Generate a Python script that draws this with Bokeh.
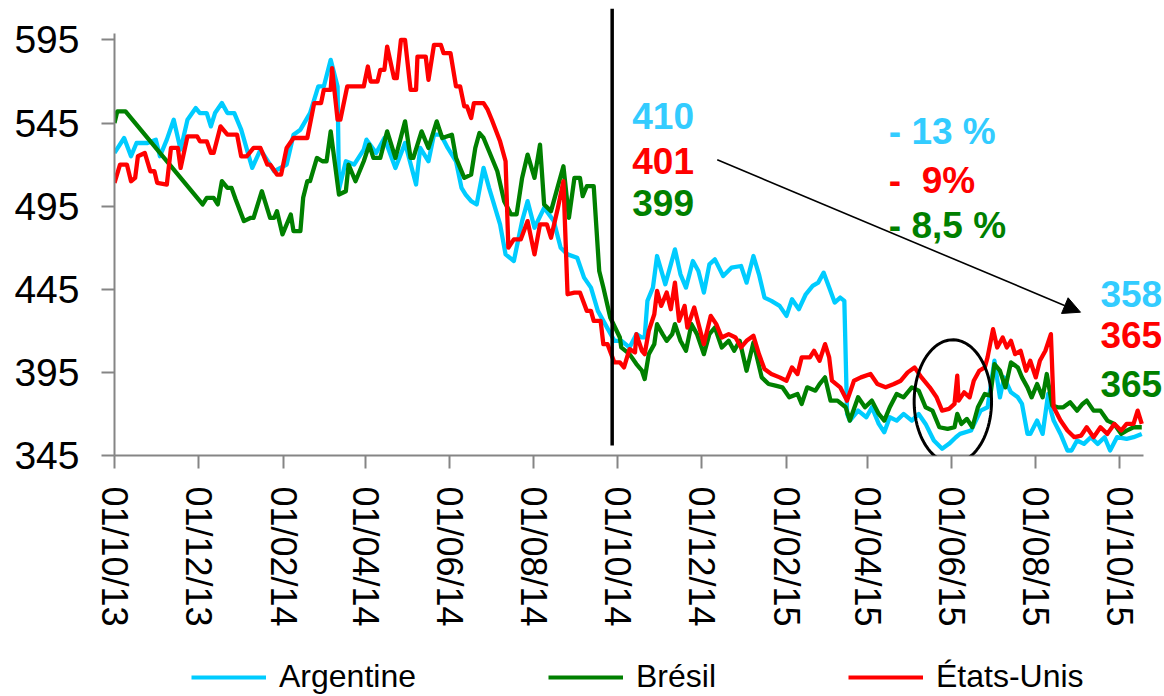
import numpy as np
import pandas as pd
from bokeh.plotting import figure
from bokeh.layouts import column
from bokeh.models import (Range1d, FixedTicker, Legend, LegendItem, Label, Arrow,
                          NormalHead, PolyAnnotation, ColumnDataSource)
from bokeh.embed import file_html
from bokeh.resources import INLINE

# ---------------- data (x = days since 01/10/2013) ----------------
START = pd.Timestamp("2013-10-01")
tick_dates = ["2013-10-01", "2013-12-01", "2014-02-01", "2014-04-01", "2014-06-01",
              "2014-08-01", "2014-10-01", "2014-12-01", "2015-02-01", "2015-04-01",
              "2015-06-01", "2015-08-01", "2015-10-01"]
tick_labels = ["01/10/13", "01/12/13", "01/02/14", "01/04/14", "01/06/14", "01/08/14",
               "01/10/14", "01/12/14", "01/02/15", "01/04/15", "01/06/15", "01/08/15",
               "01/10/15"]
y_ticks = [345, 395, 445, 495, 545, 595]

arg_days = [0, 7, 12, 16, 24, 30, 33, 38, 43, 48, 53, 59, 62, 67, 70, 73, 78, 82, 87, 92,
            100, 106, 116, 125, 130, 135, 142, 148, 152, 157, 162, 163, 168, 174, 181, 183, 190, 196, 204, 211,
            219, 222, 228, 232, 237, 242, 248, 252, 255, 259, 263, 268, 272, 280, 284, 290, 296, 300, 305, 312,
            319, 324, 329, 336, 341, 346, 351, 355, 363, 368, 374, 379, 383, 385, 387, 391, 394, 400, 404, 407,
            411, 415, 420, 424, 428, 432, 436, 442, 448, 455, 459, 464, 468, 472, 477, 483, 488, 492, 497, 502,
            507, 511, 515, 519, 523, 527, 530, 532, 534, 540, 546, 550, 555, 559, 563, 568, 573, 579, 584, 589,
            595, 601, 606, 611, 614, 622, 629, 634, 639, 643, 646, 651, 656, 659, 663, 665, 670, 674, 677, 678,
            680, 682, 687, 692, 695, 699, 704, 709, 714, 719, 723, 728, 735, 740, 746]
arg_vals = [527, 536, 525, 533, 533, 535, 525, 535, 547, 529, 547, 554, 551, 551, 543, 551, 557, 551, 551, 541,
            518, 529, 516, 520, 538, 541, 551, 567, 567, 583, 567, 505, 522, 520, 529, 535, 527, 536, 518, 533,
            508, 530, 522, 538, 538, 530, 522, 506, 502, 498, 496, 518, 506, 484, 466, 462, 486, 498, 482, 494,
            486, 470, 466, 464, 452, 446, 432, 426, 414, 414, 410, 418, 416, 416, 438, 446, 465, 448, 460, 469,
            454, 446, 462, 456, 443, 460, 463, 453, 458, 459, 449, 465, 454, 440, 438, 435, 429, 439, 433, 442,
            447, 449, 455, 446, 437, 440, 438, 370, 366, 372, 368, 374, 364, 359, 368, 366, 370, 366, 370, 364,
            354, 349, 352, 356, 358, 360, 372, 374, 402, 380, 392, 383, 380, 376, 358, 358, 366, 358, 376, 382,
            372, 366, 358, 348, 348, 354, 352, 356, 352, 356, 348, 356, 355, 356, 358]

bre_days = [0, 2, 8, 64, 67, 72, 75, 78, 82, 85, 88, 94, 99, 101, 107, 113, 116, 118, 122, 128,
            130, 135, 137, 140, 142, 147, 151, 154, 157, 163, 168, 170, 175, 181, 185, 188, 193, 198, 204, 211,
            215, 217, 223, 228, 234, 238, 245, 248, 254, 259, 262, 265, 268, 272, 278, 283, 288, 292, 296, 300,
            305, 309, 312, 317, 321, 326, 330, 334, 338, 340, 343, 348, 352, 355, 360, 367, 368, 374, 379, 383,
            385, 388, 392, 394, 398, 401, 405, 407, 411, 415, 419, 423, 428, 432, 436, 441, 446, 450, 454, 459,
            464, 470, 475, 480, 485, 490, 496, 499, 503, 509, 512, 516, 520, 525, 531, 534, 540, 545, 550, 555,
            559, 563, 568, 573, 579, 584, 589, 594, 599, 605, 610, 612, 615, 619, 623, 627, 632, 636, 639, 643,
            647, 651, 656, 659, 663, 666, 670, 674, 677, 681, 685, 689, 694, 699, 703, 706, 711, 716, 721, 726,
            731, 735, 740, 746]
bre_vals = [545, 552, 552, 496, 500, 500, 496, 510, 506, 506, 499, 486, 488, 488, 504, 488, 488, 492, 478, 490,
            480, 480, 500, 510, 510, 524, 522, 522, 540, 502, 504, 520, 510, 522, 532, 524, 524, 540, 524, 546,
            524, 524, 540, 530, 546, 536, 538, 524, 512, 514, 530, 539, 536, 528, 516, 498, 490, 490, 512, 526,
            512, 532, 496, 492, 504, 519, 488, 512, 512, 501, 507, 507, 456, 446, 428, 416, 410, 406, 400, 396,
            391, 406, 412, 424, 418, 414, 418, 424, 414, 408, 424, 418, 406, 418, 422, 410, 414, 408, 414, 396,
            413, 392, 388, 387, 386, 380, 382, 376, 386, 384, 388, 392, 378, 378, 374, 366, 380, 374, 378, 370,
            366, 374, 382, 380, 386, 384, 374, 372, 362, 361, 362, 370, 364, 367, 362, 374, 382, 381, 400, 396,
            386, 401, 398, 392, 386, 380, 388, 380, 394, 375, 374, 374, 377, 372, 376, 378, 372, 372, 366, 364,
            358, 360, 362, 362]

usa_days = [0, 4, 9, 12, 15, 17, 22, 26, 29, 31, 38, 41, 46, 48, 53, 60, 62, 67, 70, 72,
            77, 82, 89, 92, 96, 101, 106, 111, 113, 118, 121, 125, 130, 140, 145, 150, 152, 157, 158, 162,
            164, 169, 174, 181, 184, 186, 191, 193, 196, 198, 203, 205, 208, 211, 215, 219, 220, 226, 228, 232,
            237, 239, 244, 248, 251, 254, 256, 259, 261, 268, 271, 274, 280, 284, 286, 290, 295, 300, 305, 309,
            314, 317, 322, 326, 329, 334, 338, 343, 346, 348, 353, 355, 358, 363, 367, 370, 374, 378, 379, 383,
            385, 388, 392, 394, 397, 401, 404, 407, 410, 414, 416, 421, 426, 428, 433, 437, 441, 446, 451, 455,
            459, 464, 468, 472, 477, 483, 488, 492, 496, 499, 505, 508, 512, 516, 519, 521, 527, 532, 537, 542,
            549, 554, 560, 566, 571, 576, 581, 586, 592, 597, 601, 606, 610, 612, 613, 617, 621, 624, 628, 632,
            634, 638, 641, 645, 648, 651, 654, 658, 662, 665, 669, 672, 676, 680, 682, 687, 692, 697, 702, 706,
            711, 716, 721, 726, 731, 735, 740, 743, 746]
usa_vals = [509, 520, 520, 510, 512, 525, 527, 516, 516, 509, 508, 530, 530, 518, 537, 537, 534, 534, 527, 527,
            543, 538, 538, 525, 525, 530, 530, 520, 520, 514, 514, 530, 536, 536, 557, 557, 565, 565, 578, 547,
            547, 567, 567, 567, 579, 570, 570, 577, 577, 591, 572, 572, 595, 595, 565, 565, 585, 585, 571, 592,
            592, 587, 587, 567, 567, 555, 555, 548, 557, 557, 553, 547, 534, 522, 470, 475, 475, 486, 466, 484,
            484, 476, 494, 510, 442, 443, 443, 432, 432, 426, 426, 412, 412, 401, 401, 398, 409, 407, 418, 408,
            406, 420, 430, 444, 435, 443, 433, 449, 426, 435, 422, 434, 418, 412, 429, 424, 416, 418, 416, 410,
            414, 417, 406, 397, 394, 392, 390, 398, 394, 404, 404, 408, 402, 412, 404, 390, 386, 378, 390, 392,
            394, 388, 386, 388, 390, 395, 398, 392, 386, 380, 372, 373, 376, 393, 378, 383, 380, 390, 396, 398,
            404, 421, 410, 416, 410, 414, 406, 408, 396, 402, 392, 402, 408, 418, 374, 366, 360, 356, 357, 362,
            356, 362, 358, 364, 360, 364, 364, 372, 364]

series_names = ["Argentine", "Brésil", "États-Unis"]
series_colors = ["#00CCFF", "#008000", "#FF0000"]

event_day = 361.4            # vertical marker (start of the 2014/15 season)
start_labels = ["410", "401", "399"]
start_label_y = [549.0, 522.1, 496.8]
change_labels = ["- 13 %", "- \u00a09%", "- 8,5 %"]
change_label_y = [540.0, 510.5, 483.4]
end_labels = ["358", "365", "365"]
end_label_y = [442.3, 417.2, 388.3]
text_colors = ["#33CCFF", "#FF0000", "#008000"]

# ---------------- main figure ----------------
X_AXIS_END = 747.3
X_END = 762.5
Y_TOP = 613.9
p = figure(width=1164, height=656, output_backend="svg", toolbar_location=None,
           x_range=Range1d(0, X_END), y_range=Range1d(345, Y_TOP),
           min_border_left=114, min_border_right=0, min_border_top=8, min_border_bottom=201)
p.outline_line_color = None
p.grid.visible = False
p.background_fill_color = "white"

FONT = "Liberation Sans"
AX = "#858585"

tick_days = [(pd.Timestamp(d) - START).days for d in tick_dates]
xa = p.xaxis[0]
xa.ticker = FixedTicker(ticks=tick_days)
xa.bounds = (0, X_AXIS_END)
xa.major_label_overrides = {int(d): l for d, l in zip(tick_days, tick_labels)}
xa.major_label_orientation = "vertical"
xa.major_label_text_font = FONT
xa.major_label_text_font_size = "36px"
xa.major_label_text_color = "black"
xa.major_label_standoff = 18
xa.major_tick_in = 0
xa.major_tick_out = 13
xa.minor_tick_out = 0
xa.minor_tick_in = 0
xa.axis_line_color = AX
xa.axis_line_width = 2
xa.major_tick_line_color = AX
xa.major_tick_line_width = 2

ya = p.yaxis[0]
ya.ticker = FixedTicker(ticks=y_ticks)
ya.bounds = (345, 599)
ya.major_label_text_font = FONT
ya.major_label_text_font_size = "39px"
ya.major_label_text_color = "black"
ya.major_label_standoff = 22
ya.major_tick_in = 0
ya.major_tick_out = 13
ya.minor_tick_out = 0
ya.minor_tick_in = 0
ya.axis_line_color = AX
ya.axis_line_width = 2
ya.major_tick_line_color = AX
ya.major_tick_line_width = 2

for days, vals, col in [(arg_days, arg_vals, series_colors[0]),
                        (bre_days, bre_vals, series_colors[1]),
                        (usa_days, usa_vals, series_colors[2])]:
    src = ColumnDataSource(dict(x=list(days), y=list(vals)))
    p.line("x", "y", source=src, line_color=col, line_width=4.3, line_join="round")

# vertical event line
p.segment(x0=[event_day], y0=[351], x1=[event_day], y1=[Y_TOP], line_color="black", line_width=3.5)

def add_labels(texts, ys, x):
    for t, yv, c in zip(texts, ys, text_colors):
        p.add_layout(Label(x=x, y=yv, text=t, text_color=c,
                           text_font=FONT, text_font_size="37px", text_font_style="bold",
                           text_baseline="alphabetic", text_align="left"))

add_labels(start_labels, start_label_y, 376)
add_labels(change_labels, change_label_y, 562.3)
add_labels(end_labels, end_label_y, 716)

# trend arrow
p.add_layout(Arrow(end=NormalHead(size=17, fill_color="black", line_color="black", line_width=1),
                   x_start=437.7, y_start=522.9, x_end=701.5, y_end=431.2,
                   line_color="black", line_width=1.6))

# ellipse around June 2015
t = np.linspace(0, 2 * np.pi, 90)
ell_cx, ell_cy, ell_a, ell_b = 608.8, 377.5, 28.1, 37.1
p.add_layout(PolyAnnotation(xs=list(ell_cx + ell_a * np.cos(t)), ys=list(ell_cy + ell_b * np.sin(t)),
                            line_color="black", line_alpha=1.0, line_width=3,
                            fill_color=None, fill_alpha=0))

# ---------------- legend strip ----------------
pl = figure(width=1164, height=40, output_backend="svg", toolbar_location=None,
            x_range=Range1d(0, 1), y_range=Range1d(0, 1),
            x_axis_location=None, y_axis_location=None,
            min_border_left=0, min_border_right=0, min_border_top=0, min_border_bottom=0)
pl.outline_line_color = None
pl.grid.visible = False
# legend sample renderers: their (placeholder) points lie outside the strip's visible range
leg_renderers = [pl.line(x=[5, 6], y=[5, 6], line_color=c, line_width=4) for c in series_colors]
legend = Legend(items=[LegendItem(label=n, renderers=[r]) for n, r in zip(series_names, leg_renderers)],
                orientation="horizontal", location=(77, 1),
                glyph_width=75, glyph_height=20, label_standoff=13, spacing=132,
                label_text_font=FONT, label_text_font_size="32px", label_text_color="black",
                padding=0, margin=0, border_line_color=None, background_fill_alpha=0)
pl.add_layout(legend, "center")

open("out.html", "w").write(file_html(column(p, pl, spacing=0), INLINE))
